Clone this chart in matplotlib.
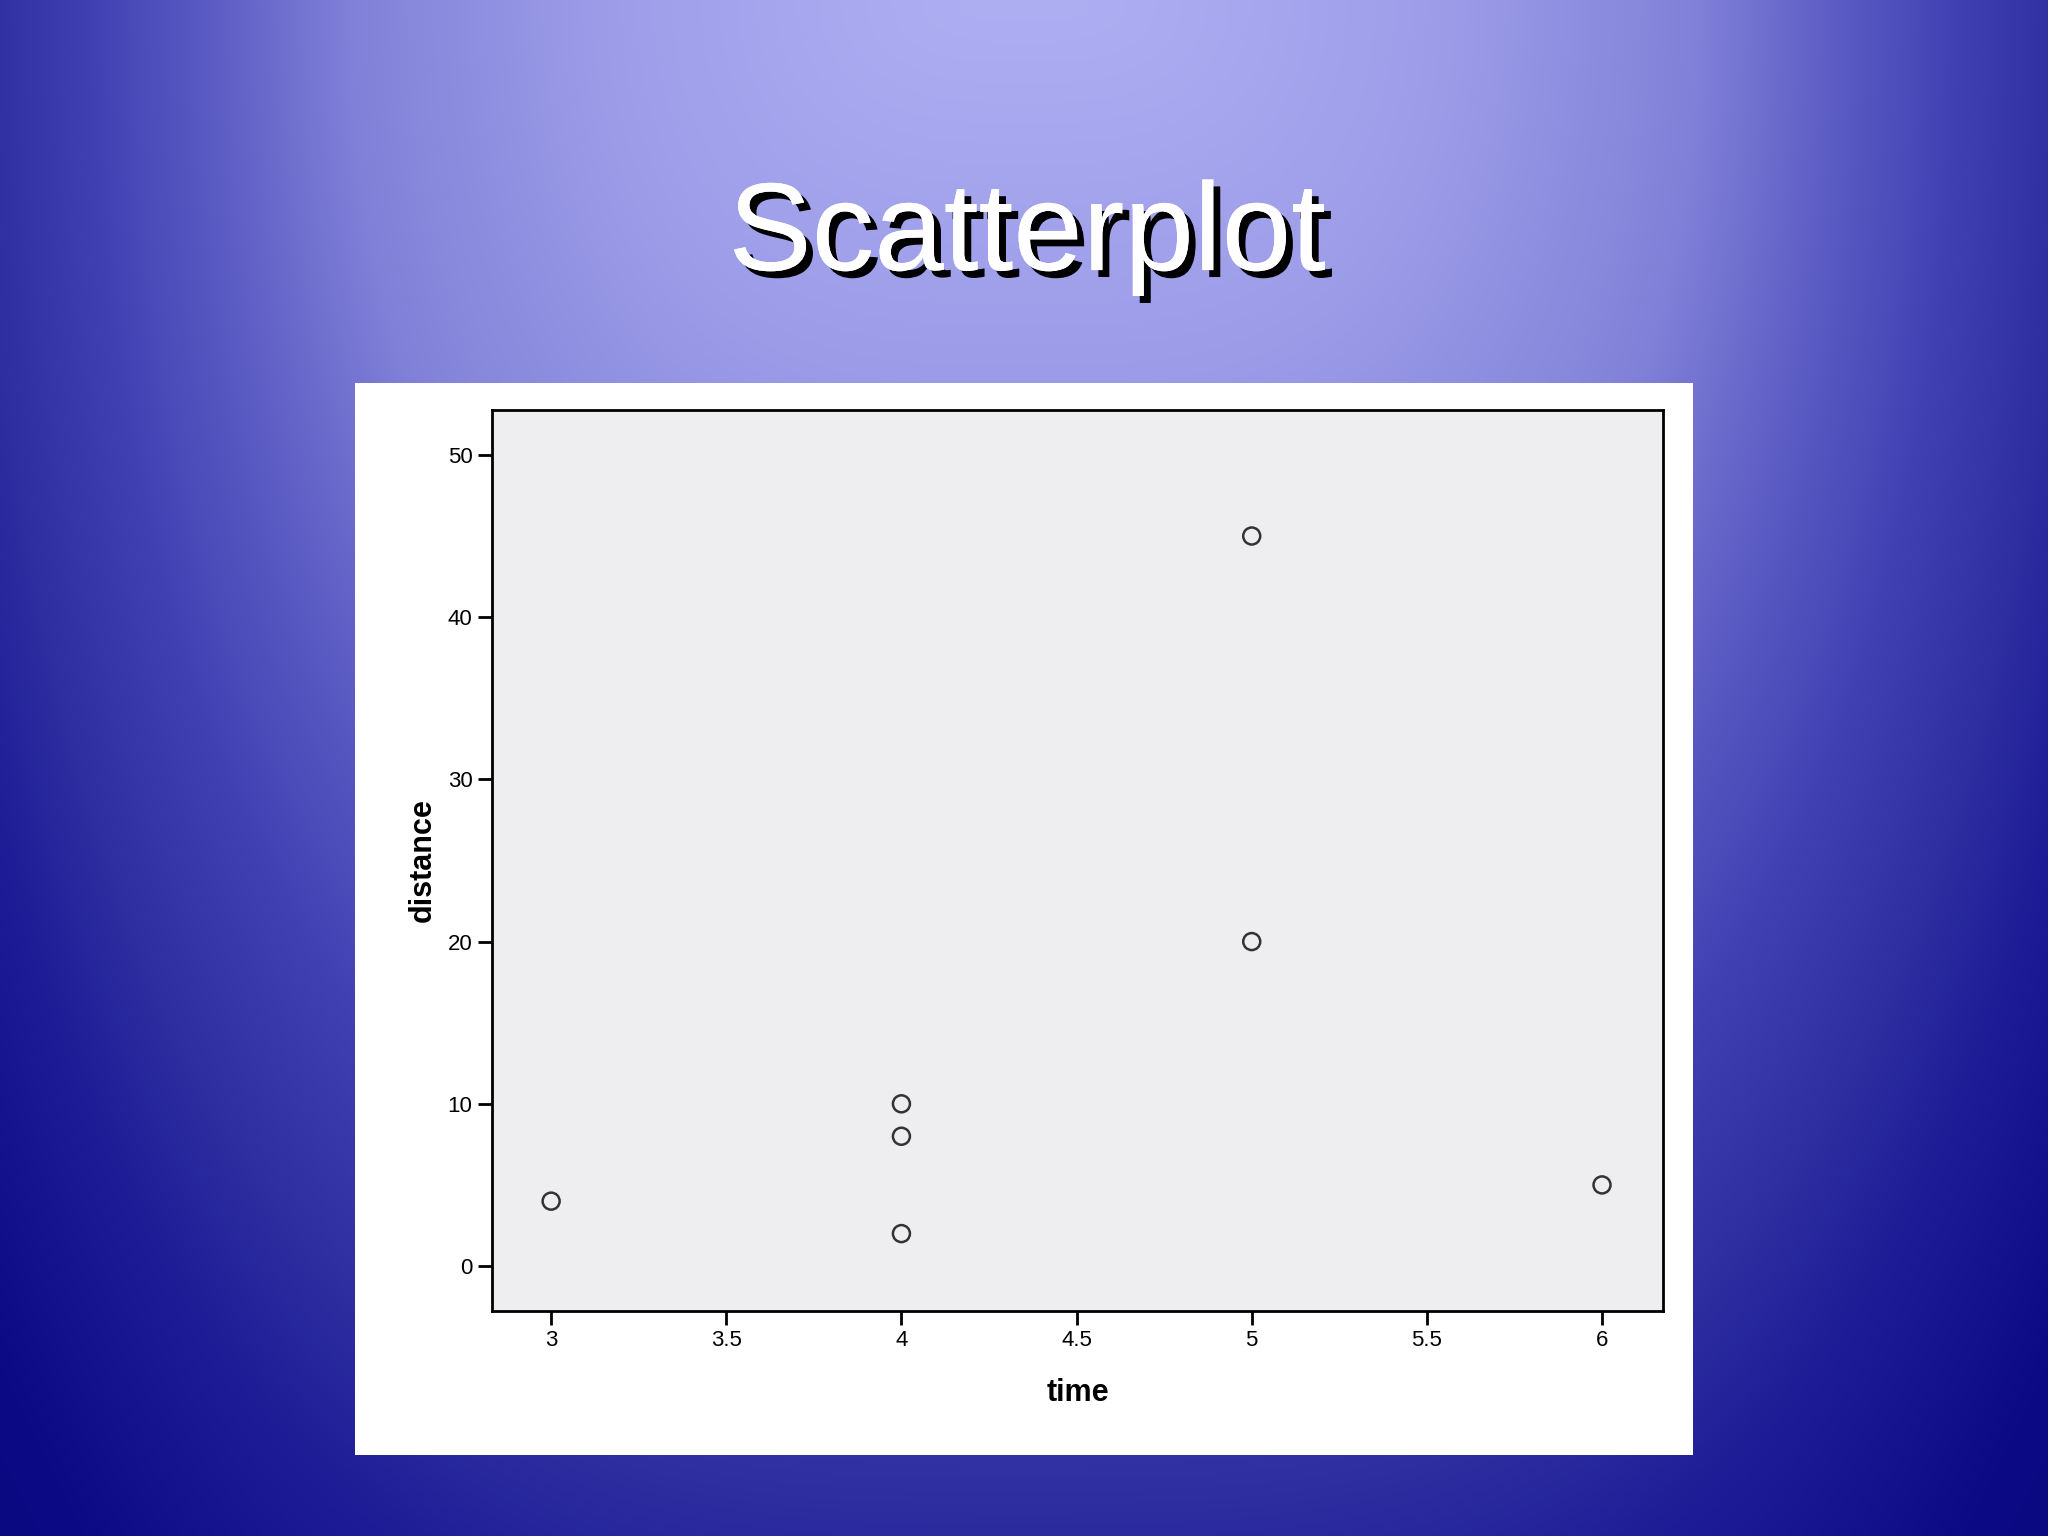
import numpy as np
import matplotlib
matplotlib.use("Agg")
import matplotlib.pyplot as plt
import matplotlib.patheffects as pe
from matplotlib.patches import Rectangle

# data
time = [3, 4, 4, 4, 5, 5, 6]
distance = [4, 2, 8, 10, 20, 45, 5]
x_ticks = [3, 3.5, 4, 4.5, 5, 5.5, 6]
x_tick_labels = ["3", "3.5", "4", "4.5", "5", "5.5", "6"]
y_ticks = [0, 10, 20, 30, 40, 50]

fig = plt.figure(figsize=(20.48, 15.36), dpi=100)

# slide background: light at top centre, navy towards the sides and bottom
bg = fig.add_axes([0, 0, 1, 1], zorder=0)
bg.axis("off")
h, w = 384, 512
yy, xx = np.mgrid[0:h, 0:w]
u = np.abs(xx / (w - 1) - 0.5) / 0.5
v = yy / (h - 1)
d = np.sqrt((0.95 * u ** 1.55) ** 2 + v ** 2)
stops = np.array([0.0, 0.25, 0.5, 0.65, 0.82, 0.98, 1.1, 1.3, 1.6])
cols = np.array([
    [174, 174, 243],
    [155, 155, 232],
    [128, 128, 216],
    [95, 95, 198],
    [65, 65, 180],
    [46, 46, 160],
    [30, 28, 150],
    [12, 10, 132],
    [8, 6, 125],
]) / 255.0
img = np.stack([np.interp(d, stops, cols[:, k]) for k in range(3)], axis=-1)
bg.imshow(img, extent=[0, 1, 0, 1], aspect="auto", interpolation="bilinear")
bg.set_xlim(0, 1)
bg.set_ylim(0, 1)

# title with drop shadow
fig.text(0.5015, 0.845, "Scatterplot", ha="center", va="center",
         fontsize=90, family="Liberation Sans", color="white", zorder=5,
         path_effects=[pe.withSimplePatchShadow(offset=(5, -5), shadow_rgbFace="black", alpha=1.0),
                       pe.Normal()])

# white panel behind the chart
fig.patches.append(Rectangle((0.1733, 0.0527), 0.6534, 0.698, transform=fig.transFigure,
                             facecolor="white", edgecolor="none", zorder=1))

ax = fig.add_axes([0.2402, 0.1465, 0.5718, 0.5866], zorder=2)
ax.set_facecolor("#eeeef1")
ax.scatter(time, distance, s=150, facecolors="none", edgecolors="#333333", linewidths=1.8, zorder=3)

ax.set_xlim(2.831, 6.174)
ax.set_ylim(-2.77, 52.77)
ax.set_xticks(x_ticks)
ax.set_xticklabels(x_tick_labels)
ax.set_yticks(y_ticks)
for s in ax.spines.values():
    s.set_linewidth(2)
    s.set_color("black")
ax.tick_params(direction="out", length=10, width=2, labelsize=16, pad=4, colors="black",
               top=False, right=False)
for lab in ax.get_xticklabels() + ax.get_yticklabels():
    lab.set_family("Liberation Sans")

ax.set_xlabel("time", fontsize=22, fontweight="bold", family="Liberation Sans", labelpad=19)
ax.set_ylabel("distance", fontsize=22, fontweight="bold", family="Liberation Sans", labelpad=7)

fig.savefig("out.png", dpi=100)
